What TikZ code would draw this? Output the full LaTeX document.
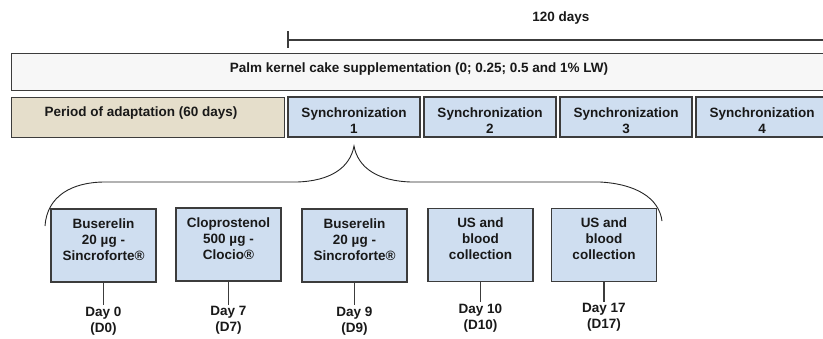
\documentclass[tikz,border=0pt]{standalone}
\usepackage{fontspec}
\setmainfont{Liberation Sans}
\definecolor{syncblue}{RGB}{207,222,240}
\definecolor{adaptbeige}{RGB}{229,222,203}
\definecolor{palmgray}{RGB}{247,247,247}
\definecolor{edgegray}{RGB}{60,60,60}
\begin{document}
\begin{tikzpicture}[x=1pt,y=-1pt,
  every node/.style={font=\fontsize{13.5}{16}\selectfont\bfseries, text=black!90},
  frame/.style={draw=edgegray, line width=1.2pt, rectangle, inner sep=0pt},
  syncbox/.style={frame, fill=syncblue, minimum width=132pt, minimum height=40pt},
  synctxt/.style={inner sep=0pt, align=center},
  evbox/.style={frame, fill=syncblue, minimum width=105pt, minimum height=73pt},
  txt/.style={inner sep=0pt, align=center},
  daylbl/.style={inner sep=1.5pt, align=center, anchor=north},
  link/.style={draw=edgegray, line width=1.2pt},
  bracepath/.style={draw=black!85, line width=0.9pt}]
\useasboundingbox (0,0) rectangle (823,338);
\clip (0,0) rectangle (823,338);
\fill[white] (0,0) rectangle (823,338);

% duration bar
\node[txt] (dur) at (561,18) {120 days};
\coordinate (ticktop) at (288,31);
\coordinate (tickbot) at (288,48);
\coordinate (tlstart) at (288,40);
\coordinate (tlend) at (835,40);
\draw[link] (ticktop) -- (tickbot);
\draw[link] (tlstart) -- (tlend);

% supplementation band
\node[frame, fill=palmgray, minimum width=830pt, minimum height=37pt, anchor=north west] (palm) at (11,53) {};
\node[txt] (palmtxt) at (419,69) {Palm kernel cake supplementation (0; 0.25; 0.5 and 1\% LW)};

% adaptation and synchronization row
\node[frame, fill=adaptbeige, minimum width=273pt, minimum height=40pt, anchor=north west] (adapt) at (11,97) {};
\node[txt] (adapttxt) at (141,113) {Period of adaptation (60 days)};
\foreach \k/\x in {1/354,2/490,3/626,4/762} {
  \node[syncbox] (s\k) at (\x,117) {};
  \node[synctxt] (s\k t) at (\x,120.5) {Synchronization\\\k};
}

% brace opening synchronization 1
\coordinate (brL) at (45,226);
\coordinate (brR) at (662,221);
\coordinate (brTip) at (354,146);
\draw[bracepath] (brL) .. controls (47,196) and (72,182) .. (105,182)
  -- (297,182) .. controls (330,181) and (350,168) .. (brTip)
  .. controls (358,168) and (378,181) .. (411,182)
  -- (600,182) .. controls (636,184) and (659,198) .. (brR);

% protocol events
\node[evbox] (e1) at (103.5,245.5) {};
\node[evbox] (e2) at (228.5,244.5) {};
\node[evbox] (e3) at (354.5,245.5) {};
\node[evbox] (e4) at (480.5,245) {};
\node[evbox] (e5) at (604,245) {};

\node[txt, anchor=north] (e1t) at (103.5,218.5) {Buserelin\\20 µg -\\Sincroforte®};
\node[txt, anchor=north] (e2t) at (228.5,218) {Cloprostenol\\500 µg -\\Clocio®};
\node[txt, anchor=north] (e3t) at (354.5,218.5) {Buserelin\\20 µg -\\Sincroforte®};
\node[txt, anchor=north] (e4t) at (480.5,218) {US and\\blood\\collection};
\node[txt, anchor=north] (e5t) at (604,218) {US and\\blood\\collection};

% day markers
\node[daylbl] (d1) at (103.5,305) {Day 0\\(D0)};
\node[daylbl] (d2) at (228.5,305) {Day 7\\(D7)};
\node[daylbl] (d3) at (354.5,305) {Day 9\\(D9)};
\node[daylbl] (d4) at (480.5,302) {Day 10\\(D10)};
\node[daylbl] (d5) at (604,302) {Day 17\\(D17)};

\foreach \i in {1,...,5} {
  \draw[link] (e\i.south) -- (d\i.north);
}
\end{tikzpicture}
\end{document}
